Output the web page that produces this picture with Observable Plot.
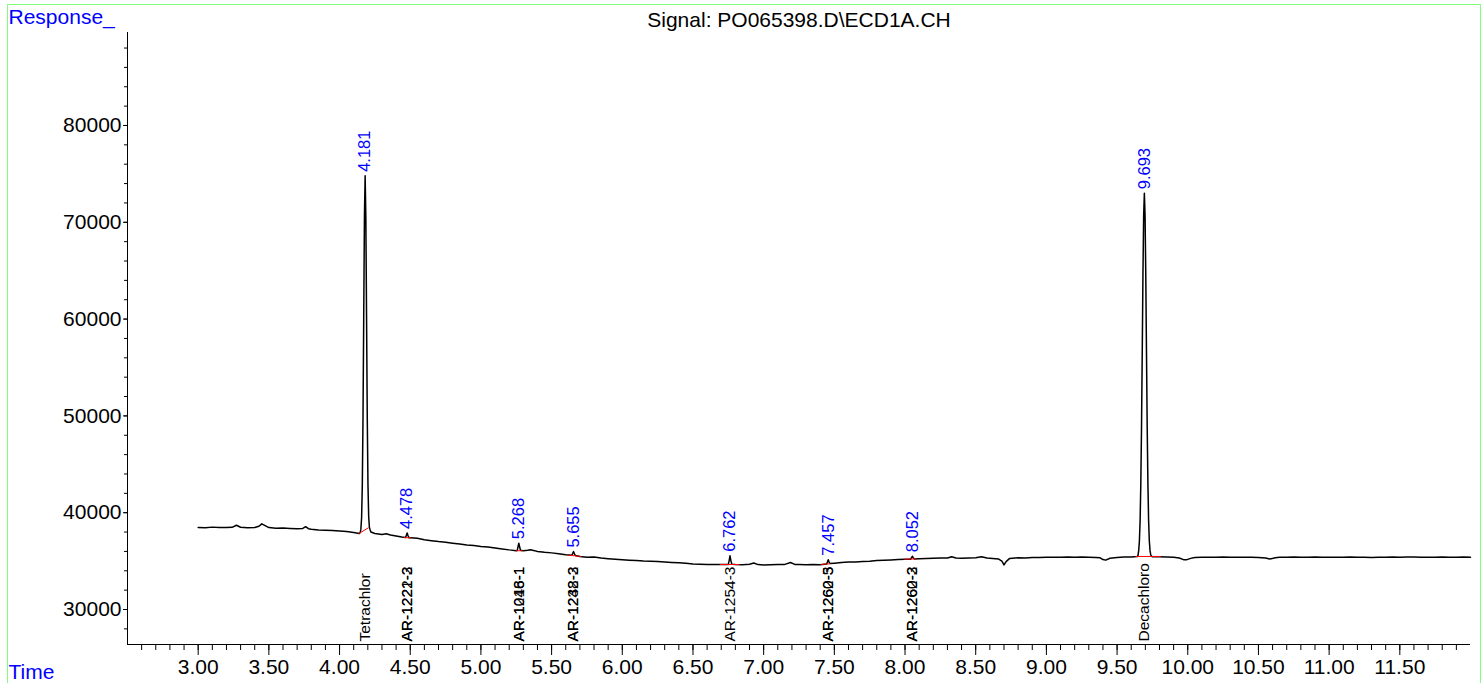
<!DOCTYPE html>
<html><head><meta charset="utf-8">
<script src="https://cdn.jsdelivr.net/npm/d3@7"></script>
<script src="https://cdn.jsdelivr.net/npm/@observablehq/plot@0.6"></script>
<style>
html,body{margin:0;padding:0;background:#fff;overflow:hidden}
#wrap{position:relative;width:1482px;height:683px}
#wrap svg{position:absolute;left:0;top:0}
#border{position:absolute;left:7px;top:4px;width:1474px;height:720px;box-sizing:border-box;border:1px solid #80ff80;pointer-events:none}
</style></head><body><div id="wrap"></div>
<script>
// ---- data ----
const traceTime = [
3.00,3.05,3.10,3.15,3.20,3.24,3.27,3.30,3.35,3.40,
3.43,3.45,3.48,3.50,3.55,3.60,3.65,3.70,3.74,3.76,
3.78,3.80,3.85,3.90,3.95,4.00,4.05,4.10,4.14,4.146,
4.151,4.156,4.161,4.166,4.171,4.176,4.181,4.186,4.191,4.196,
4.201,4.206,4.211,4.216,4.222,4.25,4.30,4.33,4.36,4.40,
4.44,4.466,4.472,4.478,4.484,4.491,4.50,4.55,4.60,4.65,
4.70,4.75,4.80,4.85,4.90,4.95,5.00,5.05,5.10,5.15,
5.20,5.25,5.257,5.262,5.268,5.274,5.280,5.30,5.33,5.35,
5.38,5.40,5.45,5.50,5.55,5.60,5.643,5.649,5.655,5.661,
5.668,5.70,5.75,5.80,5.85,5.90,5.95,6.00,6.05,6.10,
6.15,6.20,6.25,6.30,6.35,6.40,6.45,6.50,6.55,6.60,
6.65,6.70,6.750,6.756,6.762,6.768,6.775,6.80,6.85,6.90,
6.93,6.96,7.00,7.05,7.10,7.15,7.19,7.22,7.25,7.30,
7.35,7.40,7.445,7.451,7.457,7.463,7.470,7.50,7.55,7.60,
7.65,7.70,7.75,7.80,7.85,7.90,7.95,8.00,8.040,8.046,
8.052,8.058,8.065,8.10,8.15,8.20,8.25,8.30,8.33,8.36,
8.40,8.45,8.50,8.54,8.58,8.62,8.66,8.685,8.70,8.715,
8.74,8.80,8.85,8.90,8.95,9.00,9.05,9.10,9.15,9.20,
9.25,9.30,9.35,9.38,9.40,9.42,9.45,9.50,9.55,9.60,
9.643,9.648,9.653,9.658,9.663,9.668,9.673,9.678,9.683,9.688,
9.693,9.698,9.703,9.708,9.713,9.718,9.723,9.728,9.733,9.738,
9.743,9.75,9.80,9.85,9.90,9.94,9.97,9.99,10.02,10.05,
10.10,10.15,10.20,10.25,10.30,10.35,10.40,10.45,10.50,10.55,
10.58,10.62,10.65,10.70,10.75,10.80,10.85,10.90,10.95,11.00,
11.05,11.10,11.15,11.20,11.25,11.30,11.35,11.40,11.45,11.50,
11.55,11.60,11.65,11.70,11.75,11.80,11.85,11.90,11.95,12.00
];
const traceResponse = [
38480,38450,38510,38470,38460,38490,38700,38500,38440,38470,
38600,38850,38620,38460,38400,38420,38380,38350,38380,38560,
38350,38300,38210,38180,38150,38110,38060,37960,37850,37950,
38300,39500,42900,49900,60300,70500,74800,70500,60300,49900,
42900,39600,38500,38250,38000,37850,37760,37820,37700,37600,
37480,37430,37650,37900,37640,37420,37400,37350,37210,37110,
37020,36950,36850,36760,36660,36600,36510,36450,36350,36260,
36160,36080,36100,36450,36850,36450,36120,36060,36120,36180,
36080,36000,35910,35850,35760,35660,35600,35780,35980,35780,
35580,35480,35400,35420,35310,35250,35200,35150,35100,35060,
35000,34980,34950,34900,34860,34820,34780,34710,34680,34660,
34640,34640,34660,35050,35550,35050,34680,34650,34620,34680,
34800,34640,34610,34630,34650,34660,34850,34660,34640,34620,
34650,34630,34690,34900,35150,34900,34740,34780,34850,34900,
34920,34950,34990,35050,35080,35120,35160,35180,35200,35350,
35500,35350,35230,35250,35280,35300,35310,35320,35450,35330,
35300,35330,35350,35450,35310,35280,35220,35000,34600,34950,
35280,35350,35330,35360,35380,35400,35400,35410,35420,35400,
35420,35400,35380,35340,35160,35100,35300,35380,35420,35420,
35470,35600,36080,37100,39230,43080,48970,56600,64550,70670,
73000,70670,64550,56600,48970,43080,39230,37100,36080,35660,
35510,35450,35450,35420,35400,35320,35150,35130,35280,35380,
35400,35410,35400,35420,35400,35410,35390,35400,35380,35330,
35220,35340,35390,35400,35420,35410,35400,35420,35400,35410,
35390,35400,35420,35400,35390,35380,35400,35410,35420,35400,
35430,35420,35400,35410,35400,35420,35410,35400,35420,35400
];

// integration baselines (red)
const baseStartTime = [4.134, 4.455, 5.250, 5.615, 6.690, 7.405, 7.995, 9.630];
const baseStartResp = [37820, 37430, 36080, 35620, 34650, 34650, 35190, 35480];
const baseEndTime   = [4.205, 4.505, 5.295, 5.710, 6.830, 7.470, 8.080, 9.810];
const baseEndResp   = [38450, 37400, 36060, 35480, 34650, 34730, 35230, 35480];

// retention time labels
const peakTime = [4.181, 4.478, 5.268, 5.655, 6.762, 7.457, 8.052, 9.693];
const peakApex = [74800, 37900, 36850, 35980, 35550, 35150, 35500, 73000];

// compound names
const compoundTime = [4.181, 4.478, 4.478, 5.268, 5.268, 5.655, 5.655, 6.762, 7.457, 7.457, 8.052, 8.052, 9.693];
const compoundName = ["Tetrachlor", "AR-1221-3", "AR-1222-2", "AR-1016-1", "AR-1248-1", "AR-1232-3", "AR-1248-2",
  "AR-1254-3", "AR-1260-5", "AR-1262-3", "AR-1260-2", "AR-1262-3", "Decachloro"];

const xMajorTicks = [3.0, 3.5, 4.0, 4.5, 5.0, 5.5, 6.0, 6.5, 7.0, 7.5, 8.0, 8.5, 9.0, 9.5, 10.0, 10.5, 11.0, 11.5];
const xMinorTicks = d3.range(26, 120).map(i => i / 10);
const yMajorTicks = [30000, 40000, 50000, 60000, 70000, 80000];
const yMinorTicks = d3.range(28000, 90000, 2000);

const titleText = "Signal: PO065398.D\\ECD1A.CH";
const yAxisTitle = "Response_";
const xAxisTitle = "Time";

// ---- build tables ----
const trace = traceTime.map((t, i) => ({t, v: traceResponse[i]}));
const baselines = baseStartTime.map((t, i) => ({t1: t, v1: baseStartResp[i], t2: baseEndTime[i], v2: baseEndResp[i]}));
const peaks = peakTime.map((t, i) => ({t, v: peakApex[i], label: t.toFixed(3)}));
const compounds = compoundTime.map((t, i) => ({t, name: compoundName[i]}));

const X0 = 2.5, X1 = 12.0, Y0 = 26385, Y1 = 89605;
const font = "'Liberation Sans', Arial, Helvetica, sans-serif";

const chart = Plot.plot({
  width: 1482, height: 683,
  marginLeft: 127, marginRight: 12, marginTop: 32, marginBottom: 39,
  x: {domain: [X0, X1]},
  y: {domain: [Y0, Y1]},
  style: {fontFamily: font, background: "transparent", color: "black", overflow: "visible"},
  marks: [
    Plot.axisY(yMinorTicks, {tickSize: 3, tickFormat: () => "", label: null}),
    Plot.axisY(yMajorTicks, {tickSize: 4, tickPadding: 2, fontSize: 21, tickFormat: d => String(d), label: null}),
    Plot.axisX(xMinorTicks, {tickSize: 6, tickFormat: () => "", label: null}),
    Plot.axisX(xMajorTicks, {tickSize: 11, tickPadding: 4, fontSize: 21, tickFormat: d => d.toFixed(2), label: null}),
    Plot.ruleX([X0], {stroke: "black"}),
    Plot.ruleY([Y0], {stroke: "black"}),
    Plot.line(trace, {x: "t", y: "v", stroke: "black", strokeWidth: 1.5}),
    Plot.link(baselines, {x1: "t1", y1: "v1", x2: "t2", y2: "v2", stroke: "red", strokeWidth: 1}),
    Plot.text(peaks, {x: "t", y: "v", text: "label", rotate: -90, textAnchor: "start", lineAnchor: "middle",
      dy: -4, fill: "blue", fontSize: 16.5}),
    Plot.text(compounds, {x: "t", text: "name", frameAnchor: "bottom", rotate: -90, textAnchor: "start",
      lineAnchor: "middle", dy: -3, fill: "black", fontSize: 15.5}),
    Plot.text([titleText], {text: d => d, frameAnchor: "top", lineAnchor: "middle", dy: -12, fontSize: 21, fill: "black"}),
    Plot.text([yAxisTitle], {text: d => d, frameAnchor: "top-left", lineAnchor: "middle", dx: -119, dy: -15, textAnchor: "start", fill: "blue", fontSize: 21}),
    Plot.text([xAxisTitle], {text: d => d, frameAnchor: "bottom-left", lineAnchor: "middle", dx: -119, dy: 28, textAnchor: "start", fill: "blue", fontSize: 21})
  ]
});
const wrap = document.getElementById("wrap");
wrap.appendChild(chart);
const border = document.createElement("div");
border.id = "border";
wrap.appendChild(border);
</script>
</body></html>
